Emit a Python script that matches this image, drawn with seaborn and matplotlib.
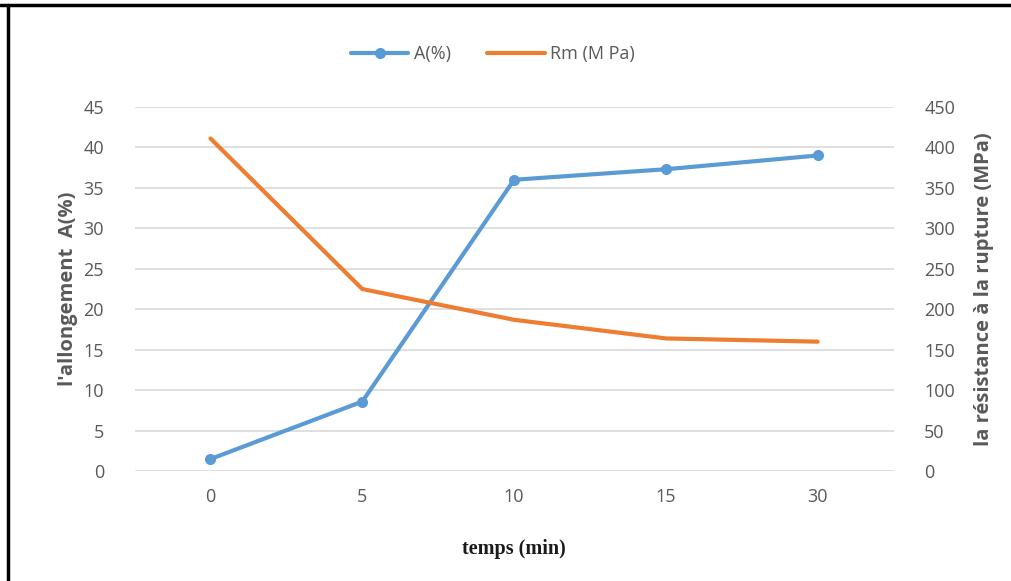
"""Allongement and Rm versus temps, two y axes."""

import pandas as pd
import matplotlib.pyplot as plt
import seaborn as sns
from matplotlib.lines import Line2D

# data
temps = ["0", "5", "10", "15", "30"]
allongement = [1.5, 8.6, 36.0, 37.3, 39.0]
rm_mpa = [411, 225, 187, 164, 160]

blue = "#5B9BD5"
orange = "#ED7D31"
grey_txt = "#595959"

df = pd.DataFrame({"temps": temps, "A": allongement, "Rm": rm_mpa})

sns.set_theme(style="white")
plt.rcParams["font.family"] = ["Open Sans", "DejaVu Sans"]

fig = plt.figure(figsize=(10.12, 5.81), dpi=100)
ax = fig.add_axes([0.133, 0.189, 0.750, 0.627])
ax2 = ax.twinx()

sns.lineplot(data=df, x="temps", y="A", ax=ax, color=blue, linewidth=3,
             marker="o", markersize=8, markeredgewidth=0, sort=False)
sns.lineplot(data=df, x="temps", y="Rm", ax=ax2, color=orange, linewidth=3,
             sort=False)

ax.set_xlim(-0.5, 4.5)
ax.set_ylim(0, 45)
ax2.set_ylim(0, 450)
ax.set_yticks(range(0, 46, 5))
ax2.set_yticks(range(0, 451, 50))
ax.yaxis.grid(True, color="#D9D9D9", linewidth=1.2)
ax.set_axisbelow(True)

for a in (ax, ax2):
    for s in a.spines.values():
        s.set_visible(False)
    a.tick_params(length=0, labelsize=13, labelcolor=grey_txt)
ax.tick_params(axis="y", pad=22)
ax.tick_params(axis="x", pad=12)
ax2.tick_params(axis="y", pad=22)

ax.set_ylabel("l'allongement  A(%)", fontsize=14.5, fontweight="bold",
              color=grey_txt, labelpad=4)
ax2.set_ylabel("la résistance à la rupture (MPa)", fontsize=14.5,
               fontweight="bold", color=grey_txt, labelpad=14, rotation=90)
ax.set_xlabel("temps (min)", fontsize=14.5, fontweight="bold",
              family="Liberation Serif", color="#1a1a1a", labelpad=24)

handles = [
    Line2D([], [], color=blue, linewidth=3, marker="o", markersize=8,
           markeredgewidth=0),
    Line2D([], [], color=orange, linewidth=3),
]
leg = fig.legend(handles, ["A(%)", "Rm (M Pa)"], loc="center",
                 bbox_to_anchor=(0.487, 0.907), ncol=2, frameon=False,
                 fontsize=13, handlelength=3.2, columnspacing=2.0,
                 handletextpad=0.3)
for t in leg.get_texts():
    t.set_color(grey_txt)

# partial frame like the source screenshot
fig.add_artist(Line2D([0.0, 1.0], [0.991, 0.991], color="black", linewidth=2.5,
                      transform=fig.transFigure))
fig.add_artist(Line2D([0.0075, 0.0075], [0.0, 0.991], color="black",
                      linewidth=2.5, transform=fig.transFigure))

fig.savefig("out.png", dpi=100)
plt.close()
